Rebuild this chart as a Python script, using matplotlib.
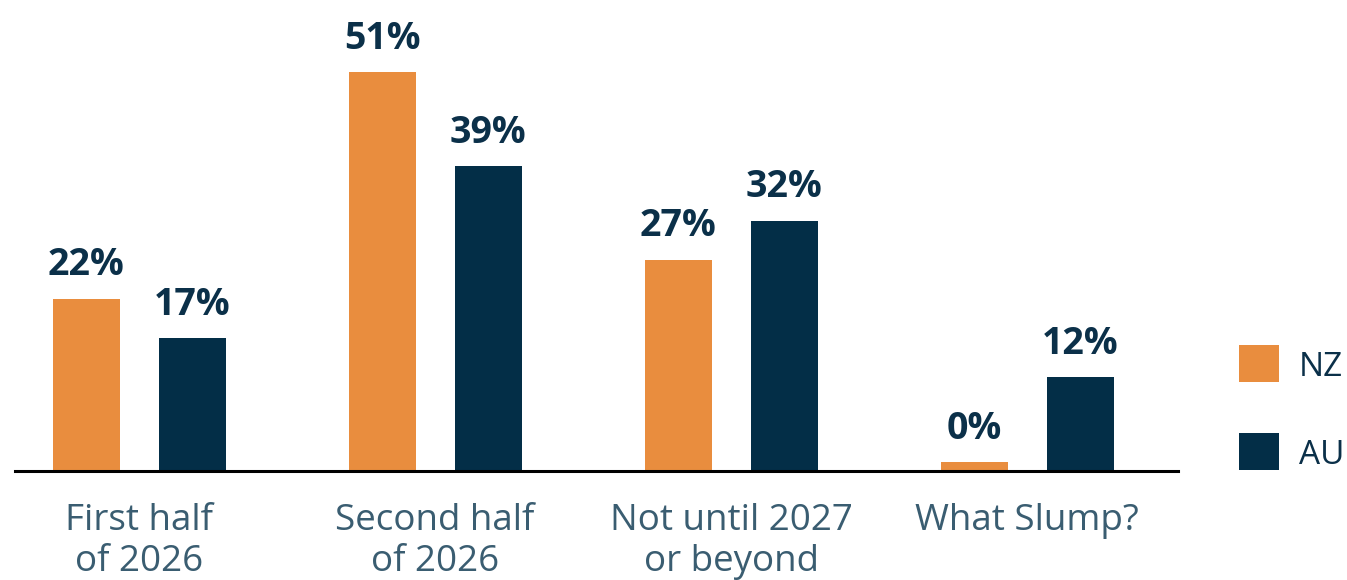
import numpy as np
import matplotlib
matplotlib.use("Agg")
import matplotlib.pyplot as plt
from matplotlib.patches import Rectangle

# Survey: when will the slump end?
categories = ["First half\nof 2026", "Second half\nof 2026", "Not until 2027\nor beyond", "What Slump?"]
series_names = ["NZ", "AU"]
nz_values = [22, 51, 27, 0]
au_values = [17, 39, 32, 12]

ORANGE = "#E98D3E"
NAVY = "#032E47"
LABEL_NAVY = "#0B3049"
SLATE = "#3A5D71"
ZERO_STUB = 1.1  # height of the thin marker drawn for zero-valued bars

plt.rcParams["font.family"] = ["Open Sans", "DejaVu Sans"]

W, H, DPI = 1347, 580, 100
fig = plt.figure(figsize=(W / DPI, H / DPI), dpi=DPI)

base_px = 471
top_px = 2
left_px, right_px = 15, 1178
ax = fig.add_axes([left_px / W, (H - base_px) / H,
                   (right_px - left_px) / W, (base_px - top_px) / H])

x = np.arange(len(categories))
width = 0.226
offset = 0.179

for vals, color, sign in [(nz_values, ORANGE, -1), (au_values, NAVY, 1)]:
    vals = np.asarray(vals, dtype=float)
    pos = x + sign * offset
    ax.bar(pos, vals, width=width, color=color, linewidth=0, zorder=2)
    zero = vals == 0
    if zero.any():
        ax.bar(pos[zero], ZERO_STUB, width=width, color=color, linewidth=0, zorder=2)
    for px_, v in zip(pos, vals):
        shown = ZERO_STUB if v == 0 else v
        ax.annotate(f"{v:.0f}%", (px_, shown), xytext=(0, 17), textcoords="offset points",
                    ha="center", va="baseline", fontsize=27, fontweight="bold",
                    color=LABEL_NAVY, annotation_clip=False)

ax.set_xlim(-0.419, 3.509)
ax.set_ylim(0, 60)
ax.axhline(0, color="black", linewidth=2.2, zorder=3, clip_on=False)

for s in ax.spines.values():
    s.set_visible(False)
ax.set_yticks([])
ax.set_xticks(x)
ax.set_xticklabels(categories, fontsize=26.5, color=SLATE, linespacing=1.2)
ax.tick_params(axis="x", length=0, pad=23)

# Legend drawn as plain squares with labels
legend_items = [(ORANGE, "NZ", 345), (NAVY, "AU", 433)]
for color, name, top in legend_items:
    fig.patches.append(Rectangle((1239 / W, (H - top - 37) / H), 40 / W, 37 / H,
                                 transform=fig.transFigure, color=color, linewidth=0))
    fig.text(1299 / W, (H - top - 18.5) / H, name, fontsize=24, color=LABEL_NAVY,
             ha="left", va="center_baseline")

fig.savefig("out.png", dpi=DPI, facecolor="white")
